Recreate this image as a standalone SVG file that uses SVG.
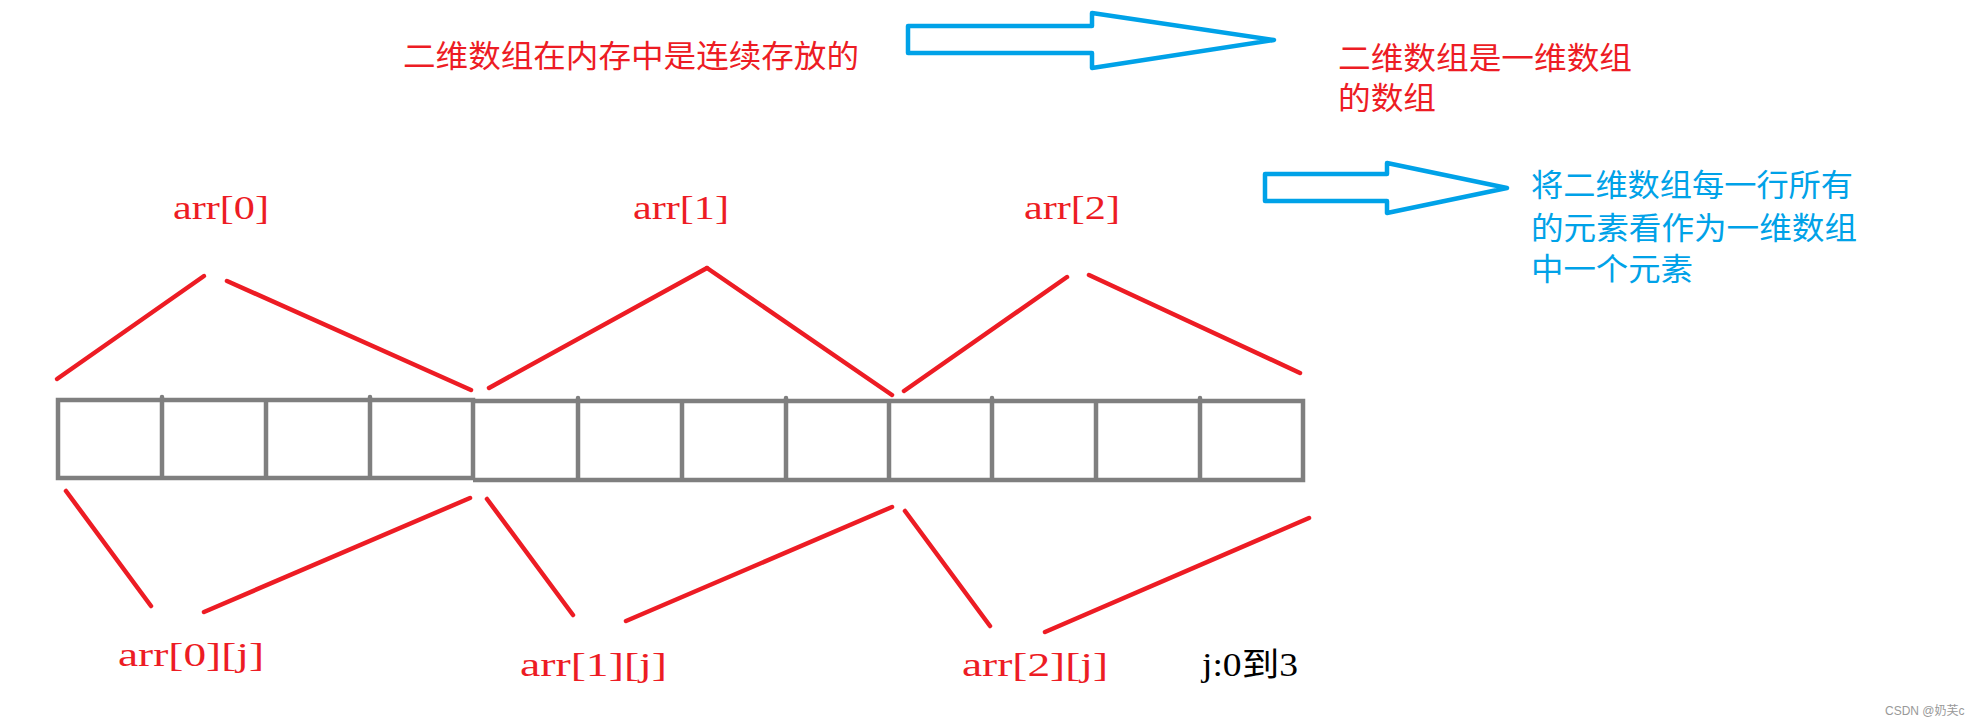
<svg xmlns="http://www.w3.org/2000/svg" width="1980" height="725" viewBox="0 0 1980 725">
<style>
.cjk{font-family:"Noto Sans CJK SC","Noto Sans CJK JP",sans-serif;font-size:31px}
.lat{font-family:"Liberation Serif",serif;font-size:33px}
.red{fill:#ED1C24}
.blue{fill:#00A2E8}
.arrow{fill:none;stroke:#00A2E8;stroke-width:4.5;stroke-linejoin:round}
.grid{fill:none;stroke:#7F7F7F;stroke-width:4.5;stroke-linecap:butt}
.nub{stroke:#7F7F7F;stroke-width:4.5;stroke-linecap:round}
.conn line{stroke:#ED1C24;stroke-width:4.5;stroke-linecap:round}
</style>
<rect width="1980" height="725" fill="#FFFFFF"/>

<g id="title-text">
<text class="cjk red" x="403" y="67" textLength="456" lengthAdjust="spacingAndGlyphs">二维数组在内存中是连续存放的</text>
</g>

<g id="arrow-top">
<polygon class="arrow" points="908,26 1092,26 1092,13 1274,40 1092,68 1092,53 908,53"/>
</g>

<g id="note-2d">
<text class="cjk red" x="1338" y="69" textLength="294" lengthAdjust="spacingAndGlyphs">二维数组是一维数组</text>
<text class="cjk red" x="1338" y="109" textLength="98" lengthAdjust="spacingAndGlyphs">的数组</text>
</g>

<g id="arrow-mid">
<polygon class="arrow" points="1265,174 1387,174 1387,163 1507,188 1387,213 1387,201 1265,201"/>
</g>

<g id="note-row">
<text class="cjk blue" x="1531" y="196" textLength="322" lengthAdjust="spacingAndGlyphs">将二维数组每一行所有</text>
<text class="cjk blue" x="1531" y="239" textLength="326" lengthAdjust="spacingAndGlyphs">的元素看作为一维数组</text>
<text class="cjk blue" x="1531" y="280" textLength="162" lengthAdjust="spacingAndGlyphs">中一个元素</text>
</g>

<g id="label-arr0"><text class="lat red" x="173" y="219" textLength="96" lengthAdjust="spacingAndGlyphs">arr[0]</text></g>
<g id="label-arr1"><text class="lat red" x="633" y="219" textLength="96" lengthAdjust="spacingAndGlyphs">arr[1]</text></g>
<g id="label-arr2"><text class="lat red" x="1024" y="219" textLength="96" lengthAdjust="spacingAndGlyphs">arr[2]</text></g>

<g id="memory-grid">
<path class="grid" d="M58,400 H473 V478 H58 Z"/>
<path class="grid" d="M473,401 H1303 V480 H473"/>
<path class="grid" d="M162,400 V478 M266,400 V478 M370,400 V478 M578,401 V480 M682,401 V480 M786,401 V480 M889,401 V480 M992,401 V480 M1096,401 V480 M1200,401 V480"/>
<path class="nub" d="M162,397 V400 M370,397 V400 M578,398 V401 M786,398 V401 M992,398 V401 M1200,398 V401"/>
</g>

<g id="connectors" class="conn">
<line x1="57" y1="379" x2="204" y2="276"/>
<line x1="227" y1="281" x2="471" y2="390"/>
<line x1="489" y1="388" x2="707" y2="268"/>
<line x1="707" y1="268" x2="892" y2="395"/>
<line x1="904" y1="391" x2="1067" y2="277"/>
<line x1="1089" y1="275" x2="1300" y2="373"/>
<line x1="66" y1="491" x2="151" y2="606"/>
<line x1="204" y1="612" x2="470" y2="498"/>
<line x1="487" y1="499" x2="573" y2="615"/>
<line x1="626" y1="621" x2="892" y2="507"/>
<line x1="905" y1="511" x2="990" y2="626"/>
<line x1="1045" y1="632" x2="1309" y2="518"/>
</g>

<g id="label-arr0j"><text class="lat red" x="118" y="666" textLength="146" lengthAdjust="spacingAndGlyphs">arr[0][j]</text></g>
<g id="label-arr1j"><text class="lat red" x="520" y="676" textLength="147" lengthAdjust="spacingAndGlyphs">arr[1][j]</text></g>
<g id="label-arr2j"><text class="lat red" x="962" y="676" textLength="146" lengthAdjust="spacingAndGlyphs">arr[2][j]</text></g>
<g id="label-range"><text x="1202" y="676" textLength="96" lengthAdjust="spacingAndGlyphs" style="font-family:'Liberation Serif','Noto Sans CJK SC',serif;font-size:33px;fill:#000000">j:0到3</text></g>

<g id="watermark"><text x="1885" y="715" style="font-family:'Liberation Sans','Noto Sans CJK SC',sans-serif;font-size:12px;fill:#999999">CSDN @奶芙c</text></g>
</svg>
